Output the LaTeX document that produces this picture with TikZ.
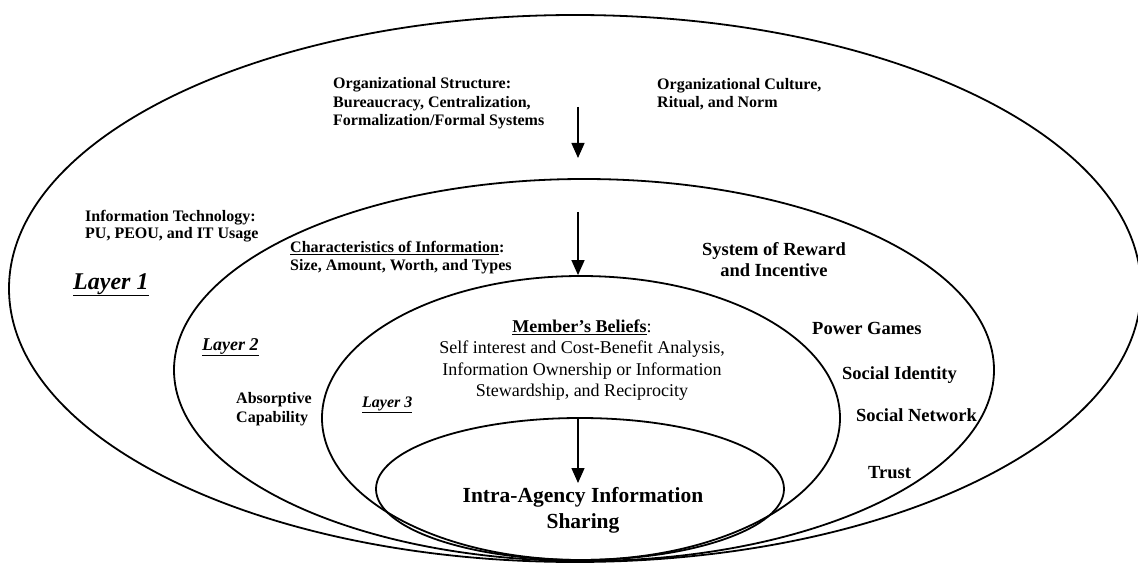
\documentclass[tikz,border=0pt]{standalone}
\usepackage{fontspec}
\setmainfont{Liberation Serif}
\usetikzlibrary{arrows.meta,shapes.geometric}
\begin{document}
\begin{tikzpicture}[x=1pt,y=-1pt,
  layer/.style={ellipse, draw=black, line width=1.8pt, inner sep=0pt},
  flow/.style={line width=1.4pt, -{Triangle[width=13pt,length=15pt]}},
  lbl/.style={inner sep=0pt, anchor=west, align=left, font=\fontsize{16}{18.5}\selectfont\bfseries},
  big/.style={inner sep=0pt, anchor=base west, font=\fontsize{18.5}{21}\selectfont\bfseries},
  tag/.style={inner sep=0pt, anchor=base west}
]
\useasboundingbox (0,0) rectangle (1138,564);
% layers
\node[layer, minimum width=1132pt, minimum height=547pt] (outer) at (575,288.5) {};
\node[layer, minimum width=820pt, minimum height=382pt] (l2) at (584,370) {};
\node[layer, minimum width=518pt, minimum height=284pt] (l3) at (581,418) {};
\node[layer, minimum width=408pt, minimum height=142pt] (inner) at (580,489) {};
% arrows
\coordinate (a1s) at (578,107);
\coordinate (a1e) at (578,158);
\coordinate (a2s) at (578,212);
\coordinate (a3e) at (578,483);
\draw[flow] (a1s) -- (a1e);
\draw[flow] (a2s) -- (a2s |- l3.north);
\draw[flow] (inner.north -| a3e) -- (a3e);
% layer 1 texts
\node[lbl] (orgstruct) at (333,103.3) {Organizational Structure:\\Bureaucracy, Centralization,\\Formalization/Formal Systems};
\node[lbl] (orgcult) at (657,94) {Organizational Culture,\\Ritual, and Norm};
\node[lbl, font=\fontsize{16}{17}\selectfont\bfseries] (infotech) at (85,226.6) {Information Technology:\\PU, PEOU, and IT Usage};
\node[tag, font=\fontsize{24}{28}\selectfont\bfseries\itshape] (layer1) at (73,289) {\underline{Layer 1}};
% layer 2 texts
\node[lbl, font=\fontsize{16}{18}\selectfont\bfseries] (charinfo) at (290,257.6) {\underline{Characteristics of Information}:\\Size, Amount, Worth, and Types};
\node[tag, font=\fontsize{18}{21}\selectfont\bfseries\itshape] (layer2) at (202,350) {\underline{Layer 2}};
\node[lbl, font=\fontsize{16}{19}\selectfont\bfseries] (absorb) at (236,409) {Absorptive\\Capability};
\node[inner sep=0pt, align=center, font=\fontsize{18.5}{21}\selectfont\bfseries] (reward) at (774,259.4) {System of Reward\\and Incentive};
\node[big] (power) at (812,334) {Power Games};
\node[big] (identity) at (842,379) {Social Identity};
\node[big] (network) at (856,421) {Social Network};
\node[big] (trust) at (868,478) {Trust};
% layer 3 texts
\node[tag, font=\fontsize{16}{19}\selectfont\bfseries\itshape] (layer3) at (362,407) {\underline{Layer 3}};
\node[inner sep=0pt, align=center, font=\fontsize{18}{21.5}\selectfont] (beliefs) at (582,360) {\underline{\textbf{Member’s Beliefs}}:\\Self interest and Cost-Benefit Analysis,\\Information Ownership or Information\\Stewardship, and Reciprocity};
% core
\node[inner sep=0pt, align=center, font=\fontsize{21.5}{26}\selectfont\bfseries] (intra) at (583,510) {Intra-Agency Information\\Sharing};
\end{tikzpicture}
\end{document}
